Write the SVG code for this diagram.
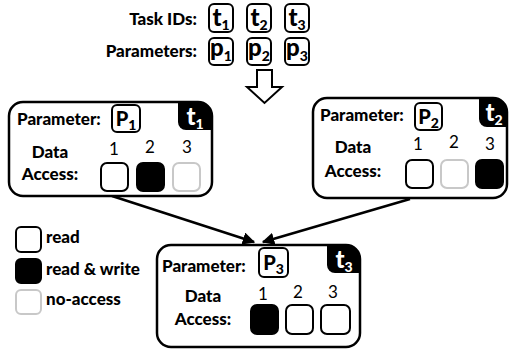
<svg xmlns="http://www.w3.org/2000/svg" width="510" height="352" viewBox="0 0 510 352">
<style>
text{font-family:Lato,"Liberation Sans",sans-serif;font-weight:900;fill:#000}
.lbl{font-size:17px}
.num{font-size:17px;font-weight:normal}
.id{font-size:24px;text-anchor:middle}
.sub{font-size:14px}
.wt{fill:#fff}
.sq{fill:#fff;stroke:#000;stroke-width:2}
.bk{fill:#000;stroke:#000;stroke-width:2}
.gy{fill:#fff;stroke:#c8c8c8;stroke-width:2}
.node{fill:#fff;stroke:#000;stroke-width:2.5}
.tag{fill:#000}
.conn{stroke:#000;stroke-width:2.5;fill:none}
</style>
<defs>
<marker id="ah" viewBox="0 0 10 10" refX="9" refY="5" markerWidth="5" markerHeight="5" orient="auto" markerUnits="strokeWidth">
<path d="M0,0 L10,5 L0,10 Z" fill="#000"/>
</marker>
</defs>

<g id="header">
<text class="lbl" x="197" y="25" text-anchor="end">Task IDs:</text>
<rect class="sq" x="209" y="4" width="24" height="28" rx="5"/>
<text class="id" x="221" y="26">t<tspan class="sub" dy="4">1</tspan></text>
<rect class="sq" x="247" y="4" width="24" height="28" rx="5"/>
<text class="id" x="259" y="26">t<tspan class="sub" dy="4">2</tspan></text>
<rect class="sq" x="285" y="4" width="24" height="28" rx="5"/>
<text class="id" x="297" y="26">t<tspan class="sub" dy="4">3</tspan></text>
<text class="lbl" x="197" y="57" text-anchor="end">Parameters:</text>
<rect class="sq" x="209" y="38" width="24" height="27" rx="5"/>
<text class="id" x="221" y="56">p<tspan class="sub" dy="5">1</tspan></text>
<rect class="sq" x="247" y="38" width="24" height="27" rx="5"/>
<text class="id" x="259" y="56">p<tspan class="sub" dy="5">2</tspan></text>
<rect class="sq" x="285" y="38" width="24" height="27" rx="5"/>
<text class="id" x="297" y="56">p<tspan class="sub" dy="5">3</tspan></text>
<polygon points="257,70 272,70 272,87 282,87 264.5,103 247,87 257,87" fill="#fff" stroke="#000" stroke-width="2"/>
</g>

<g id="connectors">
<line class="conn" x1="112" y1="196" x2="254" y2="242" marker-end="url(#ah)"/>
<line class="conn" x1="410" y1="199" x2="263" y2="242" marker-end="url(#ah)"/>
</g>

<g id="node-t1">
<rect class="node" x="9" y="102" width="203" height="94" rx="14"/>
<path class="tag" d="M178,102 H198 A14,14 0 0 1 212,116 V130 H186 A8,8 0 0 1 178,122 Z"/>
<text class="id wt" x="195" y="125">t<tspan class="sub wt" dy="4">1</tspan></text>
<text class="lbl" x="17" y="125">Parameter:</text>
<rect class="sq" x="112" y="105" width="28" height="27" rx="5"/>
<text class="id" x="126" y="126" style="font-size:20px">P<tspan class="sub" dy="4">1</tspan></text>
<text class="lbl" x="50" y="158" text-anchor="middle">Data</text>
<text class="lbl" x="50" y="180" text-anchor="middle">Access:</text>
<text class="num" x="114" y="155" text-anchor="middle">1</text>
<text class="num" x="150" y="153" text-anchor="middle">2</text>
<text class="num" x="187" y="153" text-anchor="middle">3</text>
<rect class="sq" x="101" y="163" width="27" height="28" rx="6"/>
<rect class="bk" x="137" y="163" width="27" height="28" rx="6"/>
<rect class="gy" x="173" y="163" width="27" height="28" rx="6"/>
</g>

<g id="node-t2">
<rect class="node" x="313" y="98" width="194" height="100" rx="14"/>
<path class="tag" d="M479,98 H493 A14,14 0 0 1 507,112 V127 H487 A8,8 0 0 1 479,119 Z"/>
<text class="id wt" x="494" y="121">t<tspan class="sub wt" dy="4">2</tspan></text>
<text class="lbl" x="320" y="121">Parameter:</text>
<rect class="sq" x="415" y="103" width="27" height="27" rx="5"/>
<text class="id" x="428.5" y="124" style="font-size:20px">P<tspan class="sub" dy="4">2</tspan></text>
<text class="lbl" x="353" y="153" text-anchor="middle">Data</text>
<text class="lbl" x="353" y="177" text-anchor="middle">Access:</text>
<text class="num" x="418" y="150" text-anchor="middle">1</text>
<text class="num" x="454" y="148" text-anchor="middle">2</text>
<text class="num" x="490" y="150" text-anchor="middle">3</text>
<rect class="sq" x="406" y="160" width="27" height="28" rx="6"/>
<rect class="gy" x="441" y="160" width="27" height="28" rx="6"/>
<rect class="bk" x="476" y="160" width="27" height="28" rx="6"/>
</g>

<g id="node-t3">
<rect class="node" x="157" y="245" width="203" height="102" rx="14"/>
<path class="tag" d="M327,245 H346 A14,14 0 0 1 360,259 V273 H335 A8,8 0 0 1 327,265 Z"/>
<text class="id wt" x="344" y="268">t<tspan class="sub wt" dy="4">3</tspan></text>
<text class="lbl" x="162" y="272">Parameter:</text>
<rect class="sq" x="259" y="248" width="29" height="29" rx="5"/>
<text class="id" x="273.5" y="270" style="font-size:20px">P<tspan class="sub" dy="4">3</tspan></text>
<text class="lbl" x="203" y="302" text-anchor="middle">Data</text>
<text class="lbl" x="203" y="325" text-anchor="middle">Access:</text>
<text class="num" x="263" y="300" text-anchor="middle">1</text>
<text class="num" x="298" y="298" text-anchor="middle">2</text>
<text class="num" x="333" y="298" text-anchor="middle">3</text>
<rect class="bk" x="251" y="305" width="27" height="29" rx="6"/>
<rect class="sq" x="286" y="305" width="27" height="29" rx="6"/>
<rect class="sq" x="321" y="305" width="29" height="29" rx="6"/>
</g>

<g id="legend">
<rect class="sq" x="16" y="227" width="25" height="25" rx="5"/>
<text class="lbl" x="46" y="243">read</text>
<rect class="bk" x="16" y="259" width="25" height="24" rx="5"/>
<text class="lbl" x="46" y="275">read &amp; write</text>
<rect class="gy" x="16" y="290" width="25" height="24" rx="5"/>
<text class="lbl" x="46" y="305">no-access</text>
</g>
</svg>
